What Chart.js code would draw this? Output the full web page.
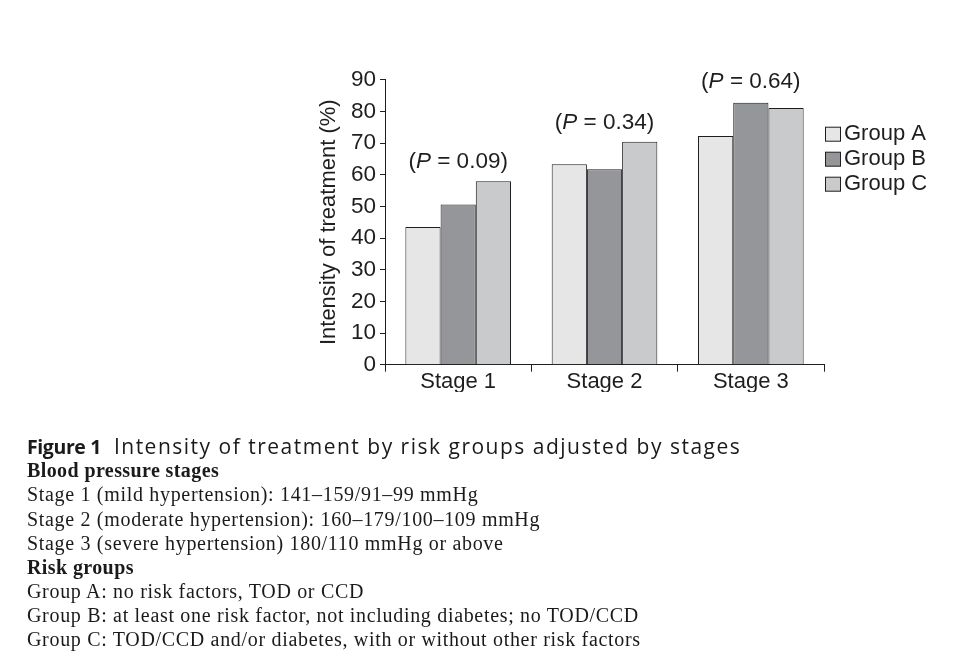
<!DOCTYPE html>
<html><head><meta charset="utf-8">
<script src="https://cdn.jsdelivr.net/npm/chart.js@4.4.0/dist/chart.umd.min.js"></script>
<style>
html,body{margin:0;padding:0;background:#fff;}
#wrap{position:relative;width:957px;height:658px;overflow:hidden;background:#fff;}
canvas{position:absolute;left:0;top:0;}
.cap{position:absolute;left:27px;white-space:nowrap;color:#1a1a1a;line-height:24px;}
.sans{font-family:"Open Sans",sans-serif;font-size:21px;letter-spacing:1.5px;}
.sans b{font-size:19.5px;letter-spacing:-0.4px;font-weight:bold;margin-right:13px;}
.serif{font-family:"Liberation Serif",serif;font-size:20px;letter-spacing:0.68px;}
.serif b{font-weight:bold;letter-spacing:0.4px;}
</style></head><body>
<div id="wrap">
<canvas id="c" width="957" height="658"></canvas>
<div class="cap sans" style="top:434px"><b>Figure 1</b>Intensity of treatment by risk groups adjusted by stages</div>
<div class="cap serif" style="top:458px"><b>Blood pressure stages</b></div>
<div class="cap serif" style="top:482px">Stage 1 (mild hypertension): 141–159/91–99 mmHg</div>
<div class="cap serif" style="top:507px">Stage 2 (moderate hypertension): 160–179/100–109 mmHg</div>
<div class="cap serif" style="top:531px">Stage 3 (severe hypertension) 180/110 mmHg or above</div>
<div class="cap serif" style="top:555px"><b>Risk groups</b></div>
<div class="cap serif" style="top:579px">Group A: no risk factors, TOD or CCD</div>
<div class="cap serif" style="top:603px">Group B: at least one risk factor, not including diabetes; no TOD/CCD</div>
<div class="cap serif" style="top:627px">Group C: TOD/CCD and/or diabetes, with or without other risk factors</div>
</div>
<script>
const categories = ['Stage 1', 'Stage 2', 'Stage 3'];
const seriesNames = ['Group A', 'Group B', 'Group C'];
const groupA = [43.5, 63.3, 72.2];
const groupB = [50.6, 61.7, 82.7];
const groupC = [57.9, 70.4, 81.1];
const pValues = ['0.09', '0.34', '0.64'];
const pLabelAt = [64.1, 76.3, 89.4];
const yTicks = [0, 10, 20, 30, 40, 50, 60, 70, 80, 90];
const colors = ['#e6e6e6', '#959699', '#c9cacc'];

const INK = '#1e1e1e';
const SANS = '"Liberation Sans", Arial, sans-serif';

const pLabelPlugin = {
  id: 'pLabels',
  afterDraw(chart) {
    const ctx = chart.ctx;
    const xs = chart.scales.x, ys = chart.scales.y;
    ctx.save();
    ctx.fillStyle = INK;
    ctx.textBaseline = 'middle';
    ctx.textAlign = 'left';
    pValues.forEach((p, i) => {
      const parts = [['(', 'normal'], ['P', 'italic'], [' = ' + p + ')', 'normal']];
      let total = 0;
      const widths = parts.map(([t, s]) => { ctx.font = s + ' 22.5px ' + SANS; const w = ctx.measureText(t).width; total += w; return w; });
      let x = xs.getPixelForValue(i) - total / 2;
      const y = ys.getPixelForValue(pLabelAt[i]);
      parts.forEach(([t, s], k) => { ctx.font = s + ' 22.5px ' + SANS; ctx.fillText(t, x, y); x += widths[k]; });
    });
    ctx.restore();
  }
};

const legendPlugin = {
  id: 'sideLegend',
  afterDraw(chart) {
    const ctx = chart.ctx;
    const ca = chart.chartArea;
    ctx.save();
    ctx.font = '22px ' + SANS;
    ctx.textBaseline = 'middle';
    chart.data.datasets.forEach((ds, i) => {
      const cy = ca.top + 54.5 + i * 25;
      const bx = ca.right + 1.5;
      ctx.fillStyle = ds.backgroundColor;
      ctx.fillRect(bx, cy - 7, 15, 14);
      ctx.strokeStyle = INK;
      ctx.lineWidth = 1;
      ctx.strokeRect(bx, cy - 7, 15, 14);
      ctx.fillStyle = INK;
      ctx.fillText(ds.label, bx + 18.5, cy);
    });
    ctx.restore();
  }
};

const series = [groupA, groupB, groupC];
new Chart(document.getElementById('c'), {
  type: 'bar',
  data: {
    labels: categories,
    datasets: series.map((d, i) => ({
      label: seriesNames[i],
      data: d,
      backgroundColor: colors[i],
      borderColor: INK,
      borderWidth: 1,
      categoryPercentage: 0.722,
      barPercentage: 1.0
    }))
  },
  options: {
    responsive: false,
    animation: false,
    devicePixelRatio: 1,
    layout: { padding: { left: 315.6, right: 133, top: 79.7, bottom: 265.9 } },
    plugins: { legend: { display: false }, tooltip: { enabled: false } },
    scales: {
      x: {
        grid: { display: true, drawOnChartArea: false, drawTicks: true, tickLength: 7, color: INK, offset: true },
        border: { display: true, color: INK, width: 1 },
        ticks: { color: INK, font: { family: SANS, size: 22 }, padding: -3, maxRotation: 0 }
      },
      y: {
        min: 0, max: 90,
        afterBuildTicks: (s) => { s.ticks = yTicks.map(v => ({ value: v })); },
        grid: { display: true, drawOnChartArea: false, drawTicks: true, tickLength: 5, color: INK },
        border: { display: true, color: INK, width: 1 },
        ticks: { color: INK, font: { family: SANS, size: 22.5 }, padding: 4 },
        title: { display: true, text: 'Intensity of treatment (%)', color: INK, font: { family: SANS, size: 22 }, padding: { top: 0, bottom: 5 } }
      }
    }
  },
  plugins: [pLabelPlugin, legendPlugin]
});
</script>
</body></html>
